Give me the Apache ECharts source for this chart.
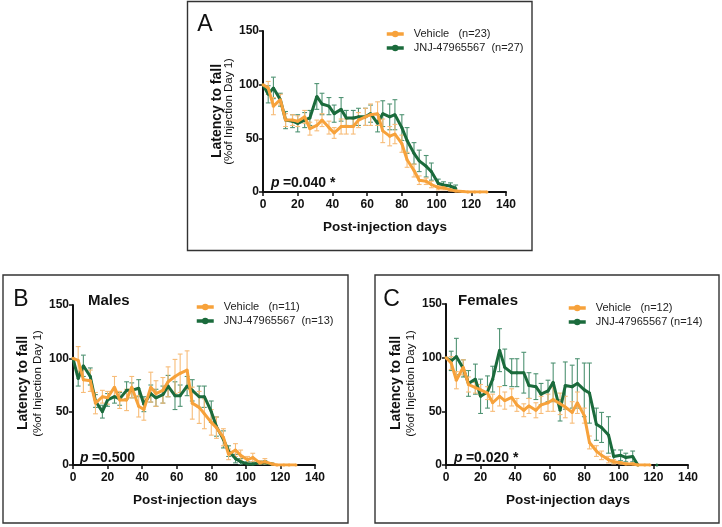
<!DOCTYPE html>
<html><head><meta charset="utf-8">
<script src="https://cdn.jsdelivr.net/npm/echarts@6/dist/echarts.min.js"></script>
<style>html,body{margin:0;padding:0;background:#fff}#c{width:722px;height:527px}</style>
</head><body><div id="c"></div>
<script>
const days = [0,3,6,10,13,17,20,24,27,31,34,38,41,45,48,52,55,59,62,66,69,73,76,80,83,87,90,94,97,101,104,108,111,115,118,122,125,129];
const xTicks = [0,20,40,60,80,100,120,140];
const yTicks = [0,50,100,150];

// Panel A (all)
const vehA    = [100,97,80,86,67,67,66,70,59,62,67,60,55,61,61,61,67,70,72,73,57,52,54,45,30,20,11,10,7,4,4,2,1,0.5,0,0,0,0];
const vehAerr = [0,6,8,5,6,5,5,6,6,5,6,6,5,7,7,7,7,8,10,11,11,9,9,8,7,6,4,3,3,2,2,1,1,0.5,0,0,0,0];
const jnjA    = [100,91,97,86,67,66,64,67,69,89,82,80,73,77,69,69,70,70,73,64,73,70,72,60,48,36,29,24,19,8,6.5,5.5,3.5,'-','-','-','-','-'];
const jnjAerr = [0,8,10,6,8,6,8,7,7,12,10,8,8,11,7,7,8,8,8,8,12,12,14,12,12,10,10,10,8,4,3,3,3,0,0,0,0,0];

// Panel B (males)
const vehB    = [100,98,80,79,58,64,63,73,61,61,73,55,52,73,67,70,78,83,86,89,58,54,48,40,35,26,10,14,9,5,7,2,3,1,0,0,0,0];
const vehBerr = [0,13,12,10,10,6,6,10,8,10,10,10,10,14,12,12,14,16,18,18,15,15,14,12,10,8,5,6,5,3,4,2,3,1,0,0,0,0];
const jnjB    = [100,81,93,83,60,50,61,64,62,70,70,72,57,67,63,66,74,65,65,74,70,64,64,50,36,24,13,6,3,1,1,2,2,1,'-','-','-','-'];
const jnjBerr = [0,7,10,8,6,6,6,6,6,8,7,8,7,8,8,8,10,13,10,9,10,10,10,10,9,8,5,4,3,2,2,2,2,1,0,0,0,0];

// Panel C (females)
const vehC    = [100,95,79,91,75,72,70,67,58,64,60,63,56,51,55,51,56,58,61,57,54,49,58,46,21,13,9,5,3,2,1,1,0,0,0,'-','-','-'];
const vehCerr = [0,6,8,7,7,5,5,6,8,9,8,8,6,6,7,7,8,8,11,10,10,10,10,7,6,5,4,3,2,1,1,1,0,0,0,0,0,0];
const jnjC    = [100,97,101,90,76,80,64,68,80,107,91,86,86,86,74,73,66,69,77,51,74,73,76,70,67,38,35,28,8,9,7,8,0,'-','-',0,'-','-'];
const jnjCerr = [0,9,17,8,12,14,16,15,12,20,17,13,13,19,12,12,10,10,18,10,22,20,23,25,28,15,14,17,6,5,4,5,0,0,0,0,0,0];

const panels = [
  {letter:'A', veh:vehA, vehErr:vehAerr, jnj:jnjA, jnjErr:jnjAerr, vehName:'Vehicle   (n=23)', jnjName:'JNJ-47965567  (n=27)', p:'0.040', star:true, sub:null},
  {letter:'B', veh:vehB, vehErr:vehBerr, jnj:jnjB, jnjErr:jnjBerr, vehName:'Vehicle   (n=11)', jnjName:'JNJ-47965567  (n=13)', p:'0.500', star:false, sub:'Males'},
  {letter:'C', veh:vehC, vehErr:vehCerr, jnj:jnjC, jnjErr:jnjCerr, vehName:'Vehicle   (n=12)', jnjName:'JNJ-47965567 (n=14)', p:'0.020', star:true, sub:'Females'}
];

// layout
const L = [
  {grid:{left:263,top:31,width:243,height:161}, box:[187.5,1.5,344.5,249], letter:[205,25], sub:null, xt:[385,227], yt1:[217,111], yt2:[228.5,111.5], p:[271,183.5], leg:{left:385,top:28}},
  {grid:{left:73,top:305,width:242,height:160}, box:[3,275,345,248], letter:[21,300], sub:[88,301], xt:[195,500], yt1:[23,383], yt2:[38,383.5], p:[80,458], leg:{left:195,top:301}},
  {grid:{left:446,top:304,width:242,height:161}, box:[375,275,344,248], letter:[391.5,300], sub:[458,301], xt:[568,500], yt1:[396,383], yt2:[410.5,383.5], p:[454,458], leg:{left:567,top:302}}
];

const FONT = '"Liberation Sans", Arial, Helvetica, sans-serif';
const ORANGE = '#F7A23B', GREEN = '#1B6B3C';
const ORANGE_ERR = '#F7BC78', GREEN_ERR = '#4F9373';

function errRender(params, api){
  const x = api.value(0), y = api.value(1), e = api.value(2);
  if (isNaN(y) || !e) return null;
  const t = api.coord([x, y + e]);
  const b = api.coord([x, y - e]);
  const c = api.visual('color');
  const w = 2.4;
  return {type:'group', children:[
    {type:'line', shape:{x1:t[0], y1:t[1], x2:b[0], y2:b[1]}, style:{stroke:c, lineWidth:1.1}},
    {type:'line', shape:{x1:t[0]-w, y1:t[1], x2:t[0]+w, y2:t[1]}, style:{stroke:c, lineWidth:1.1}},
    {type:'line', shape:{x1:b[0]-w, y1:b[1], x2:b[0]+w, y2:b[1]}, style:{stroke:c, lineWidth:1.1}}
  ]};
}

const grids=[], xAxes=[], yAxes=[], series=[], legends=[], graphics=[];
panels.forEach((P, i) => {
  const lay = L[i];
  grids.push(lay.grid);
  const axisCommon = {
    axisLine:{show:true, lineStyle:{color:'#111', width:2}},
    axisTick:{show:true, length:4, lineStyle:{color:'#111', width:1.5}},
    splitLine:{show:false},
    axisLabel:{color:'#111', fontWeight:'bold', fontSize:12, fontFamily:FONT}
  };
  xAxes.push(Object.assign({type:'value', gridIndex:i, min:xTicks[0], max:xTicks[xTicks.length-1], interval:20}, axisCommon,
    {axisLabel:Object.assign({}, axisCommon.axisLabel, {margin:7})}));
  yAxes.push(Object.assign({type:'value', gridIndex:i, min:yTicks[0], max:yTicks[yTicks.length-1], interval:50}, axisCommon,
    {axisLabel:Object.assign({}, axisCommon.axisLabel, {margin:4})}));

  const mk = (vals) => days.map((d,k) => [d, vals[k]]);
  const mkErr = (vals, errs) => days.map((d,k) => [d, vals[k], errs[k]]).filter(r => r[1] !== '-');

  series.push({type:'line', name:P.vehName, xAxisIndex:i, yAxisIndex:i, data:mk(P.veh), symbol:'circle', symbolSize:3,
    showSymbol:true, lineStyle:{color:ORANGE, width:3}, itemStyle:{color:ORANGE}, z:5, connectNulls:false});
  series.push({type:'line', name:P.jnjName, xAxisIndex:i, yAxisIndex:i, data:mk(P.jnj), symbol:'circle', symbolSize:3,
    showSymbol:true, lineStyle:{color:GREEN, width:3}, itemStyle:{color:GREEN}, z:4, connectNulls:false});
  series.push({type:'custom', name:P.jnjName, xAxisIndex:i, yAxisIndex:i, renderItem:errRender, data:mkErr(P.jnj, P.jnjErr),
    itemStyle:{color:GREEN_ERR}, encode:{x:0,y:1}, z:2, clip:true, silent:true});
  series.push({type:'custom', name:P.vehName, xAxisIndex:i, yAxisIndex:i, renderItem:errRender, data:mkErr(P.veh, P.vehErr),
    itemStyle:{color:ORANGE_ERR}, encode:{x:0,y:1}, z:3, clip:true, silent:true});

  legends.push({data:[P.vehName, P.jnjName], orient:'vertical', left:lay.leg.left, top:lay.leg.top, padding:0,
    itemWidth:17, itemHeight:8, itemGap:2, selectedMode:false,
    lineStyle:{width:3.5}, itemStyle:{borderWidth:0},
    textStyle:{fontSize:11, fontFamily:FONT, color:'#222', lineHeight:12, padding:[0,0,0,5]}});

  // border
  graphics.push({type:'rect', shape:{x:lay.box[0], y:lay.box[1], width:lay.box[2], height:lay.box[3]},
    style:{fill:'none', stroke:'#333', lineWidth:1.4}, z:0});
  // letter
  graphics.push({type:'text', x:lay.letter[0], y:lay.letter[1], style:{text:P.letter, font:'23px '+FONT, fill:'#111', textAlign:'center', textVerticalAlign:'middle'}});
  if (P.sub) graphics.push({type:'text', x:lay.sub[0], y:lay.sub[1], style:{text:P.sub, font:'bold 15px '+FONT, fill:'#111', textAlign:'left', textVerticalAlign:'middle'}});
  // x title
  graphics.push({type:'text', x:lay.xt[0], y:lay.xt[1], style:{text:'Post-injection days', font:'bold 13.5px '+FONT, fill:'#111', textAlign:'center', textVerticalAlign:'middle'}});
  // y titles
  graphics.push({type:'text', x:lay.yt1[0], y:lay.yt1[1], rotation:Math.PI/2, style:{text:'Latency to fall', font:'bold 14px '+FONT, fill:'#111', textAlign:'center', textVerticalAlign:'middle'}});
  graphics.push({type:'text', x:lay.yt2[0], y:lay.yt2[1], rotation:Math.PI/2, style:{text:'(%of Injection Day 1)', font:'11.5px '+FONT, fill:'#111', textAlign:'center', textVerticalAlign:'middle'}});
  // p value
  graphics.push({type:'text', x:lay.p[0], y:lay.p[1], style:{
    text:'{i|p} {b|=' + P.p + '}' + (P.star ? '{b| *}' : ''),
    textAlign:'left', textVerticalAlign:'middle',
    rich:{i:{font:'italic bold 14px '+FONT, fill:'#111'}, b:{font:'bold 14px '+FONT, fill:'#111'}}}});
});

const chart = echarts.init(document.getElementById('c'), null, {renderer:'canvas'});
chart.setOption({
  animation:false,
  backgroundColor:'#fff',
  grid:grids, xAxis:xAxes, yAxis:yAxes, series:series, legend:legends, graphic:graphics
});
</script></body></html>
